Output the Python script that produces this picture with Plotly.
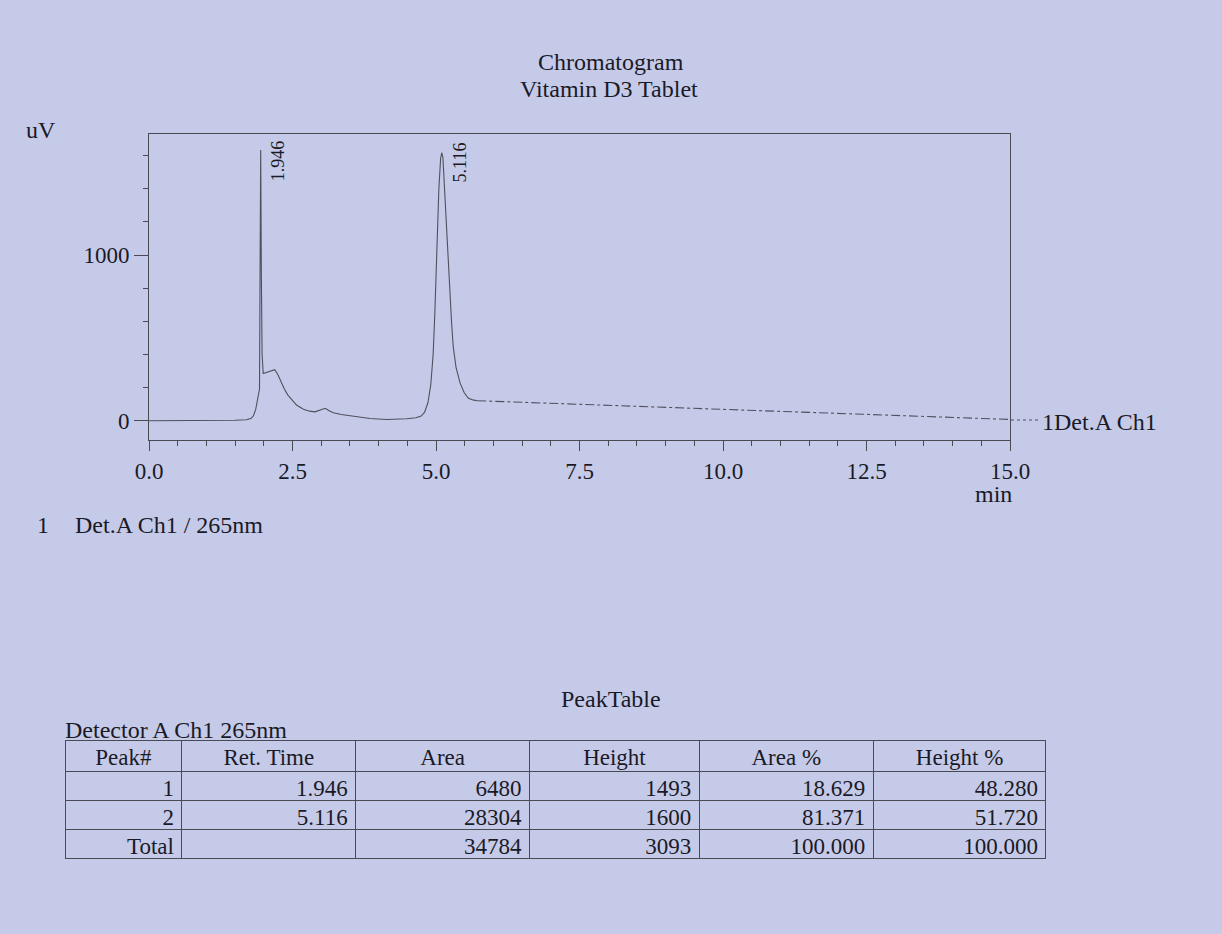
import plotly.graph_objects as go

# ---------------- data ----------------
time_min = [0.0, 0.5, 1.0, 1.5, 1.7, 1.78, 1.82, 1.86, 1.90, 1.925, 1.935, 1.946, 1.957, 1.97,
            1.99, 2.05, 2.12, 2.19, 2.24, 2.28, 2.31, 2.36, 2.42, 2.49, 2.57, 2.69, 2.80, 2.89,
            2.96, 3.02, 3.07, 3.14, 3.21, 3.35, 3.56, 3.85, 4.14, 4.35, 4.49, 4.65, 4.74, 4.80,
            4.86, 4.91, 4.95, 4.98, 5.01, 5.05, 5.08, 5.10, 5.12, 5.14, 5.17, 5.19, 5.22, 5.24,
            5.27, 5.30, 5.35, 5.42, 5.49, 5.56, 5.64, 5.72]
signal_uv = [0, 0, 0, 3, 6, 15, 30, 70, 145, 190, 900, 1633, 900, 400,
             285, 292, 300, 308, 282, 252, 226, 190, 155, 125, 95, 69, 58, 54,
             62, 72, 75, 60, 48, 38, 28, 14, 8, 9, 12, 18, 28, 50,
             110, 220, 400, 650, 1000, 1400, 1580, 1617, 1590, 1452, 1300, 1150, 930, 748,
             600, 447, 320, 227, 170, 137, 126, 121]

tail_time = [5.72, 7.5, 10.0, 12.5, 15.0]
tail_uv = [121, 100, 70, 38, 8]

peak_rt = [1.946, 5.116]
peak_apex_uv = [1633, 1617]
peak_labels = ["1.946", "5.116"]

x_ticks = [0.0, 2.5, 5.0, 7.5, 10.0, 12.5, 15.0]
x_tick_labels = ["0.0", "2.5", "5.0", "7.5", "10.0", "12.5", "15.0"]
y_ticks = [0, 1000]
y_tick_labels = ["0", "1000"]

table_header = ["Peak#", "Ret. Time", "Area", "Height", "Area %", "Height %"]
col_peak = ["1", "2", "Total"]
col_ret = ["1.946", "5.116", ""]
col_area = ["6480", "28304", "34784"]
col_height = ["1493", "1600", "3093"]
col_area_pct = ["18.629", "81.371", "100.000"]
col_height_pct = ["48.280", "51.720", "100.000"]

# ---------------- layout constants ----------------
W, H = 1222, 934
BG = "#C6CAE9"
INK = "#1a1a26"
LINE = "#4a4a55"
TRACE = "#50505c"
FONT = "Liberation Serif, Times New Roman, serif"

def px_x(p):
    return p / W

def px_y(p):
    return 1 - p / H

fig = go.Figure()

fig.add_trace(go.Scatter(x=time_min, y=signal_uv, mode="lines",
                         line=dict(color=TRACE, width=1.1), showlegend=False,
                         xaxis="x", yaxis="y"))
fig.add_trace(go.Scatter(x=tail_time, y=tail_uv, mode="lines",
                         line=dict(color=TRACE, width=1.1, dash="dashdot"), showlegend=False,
                         xaxis="x", yaxis="y"))

fig.add_trace(go.Table(
    domain=dict(x=[px_x(65), px_x(1047)], y=[px_y(860), px_y(740)]),
    columnwidth=[117, 174, 174, 170, 174, 173],
    header=dict(values=table_header, align="center", height=31,
                fill_color="rgba(0,0,0,0)", line=dict(color=LINE, width=1),
                font=dict(family=FONT, size=23, color=INK)),
    cells=dict(values=[col_peak, col_ret, col_area, col_height, col_area_pct, col_height_pct],
               align="right", height=29,
               fill_color="rgba(0,0,0,0)", line=dict(color=LINE, width=1),
               font=dict(family=FONT, size=23, color=INK)),
))

annotations = []
for rt, ap, lab in zip(peak_rt, peak_apex_uv, peak_labels):
    annotations.append(dict(x=rt, y=ap, xref="x", yref="y", text=lab, showarrow=False,
                            textangle=-90, xanchor="left", yanchor="top", xshift=5, yshift=12,
                            font=dict(family=FONT, size=18, color=INK)))

def txt(x, y, text, size=24, xanchor="center"):
    annotations.append(dict(x=px_x(x), y=px_y(y), xref="paper", yref="paper", text=text,
                            showarrow=False, xanchor=xanchor, yanchor="middle",
                            font=dict(family=FONT, size=size, color=INK)))

txt(611, 62, "Chromatogram")
txt(609, 89, "Vitamin D3 Tablet")
txt(41, 130, "uV")
txt(993, 494, "min")
txt(1040, 422, "1Det.A Ch1", xanchor="left")
txt(43, 525, "1")
txt(73, 525, "Det.A Ch1 / 265nm", xanchor="left")
txt(611, 699, "PeakTable")
txt(63, 730, "Detector A Ch1 265nm", xanchor="left")

fig.update_layout(
    width=W, height=H,
    margin=dict(l=0, r=0, t=0, b=0, pad=0, autoexpand=False),
    paper_bgcolor=BG, plot_bgcolor=BG,
    showlegend=False,
    annotations=annotations,
    shapes=[dict(type="line", xref="paper", yref="paper",
                 x0=px_x(1011), x1=px_x(1038), y0=px_y(420), y1=px_y(420),
                 line=dict(color=TRACE, width=1, dash="dot"))],
    xaxis=dict(domain=[px_x(149), px_x(1010)], range=[0, 15], automargin=False,
               tickmode="array", tickvals=x_ticks, ticktext=x_tick_labels,
               ticks="outside", ticklen=10, tickwidth=1, tickcolor=LINE,
               minor=dict(dtick=0.5, tick0=0, ticks="outside", ticklen=5, tickcolor=LINE),
               showline=True, linecolor=LINE, linewidth=1, mirror=True,
               showgrid=False, zeroline=False, fixedrange=True,
               tickfont=dict(family=FONT, size=23, color=INK)),
    yaxis=dict(domain=[px_y(440), px_y(134)], range=[-116, 1730], automargin=False,
               tickmode="array", tickvals=y_ticks, ticktext=y_tick_labels,
               ticks="outside", ticklen=14, tickwidth=1, tickcolor=LINE,
               minor=dict(dtick=200, tick0=0, ticks="outside", ticklen=5, tickcolor=LINE),
               showline=True, linecolor=LINE, linewidth=1, mirror=True,
               showgrid=False, zeroline=False, fixedrange=True,
               tickfont=dict(family=FONT, size=23, color=INK)),
)

fig.write_html("out.html", config={"displayModeBar": False},
               post_script="document.body.style.margin='0';document.body.style.overflow='hidden';")
